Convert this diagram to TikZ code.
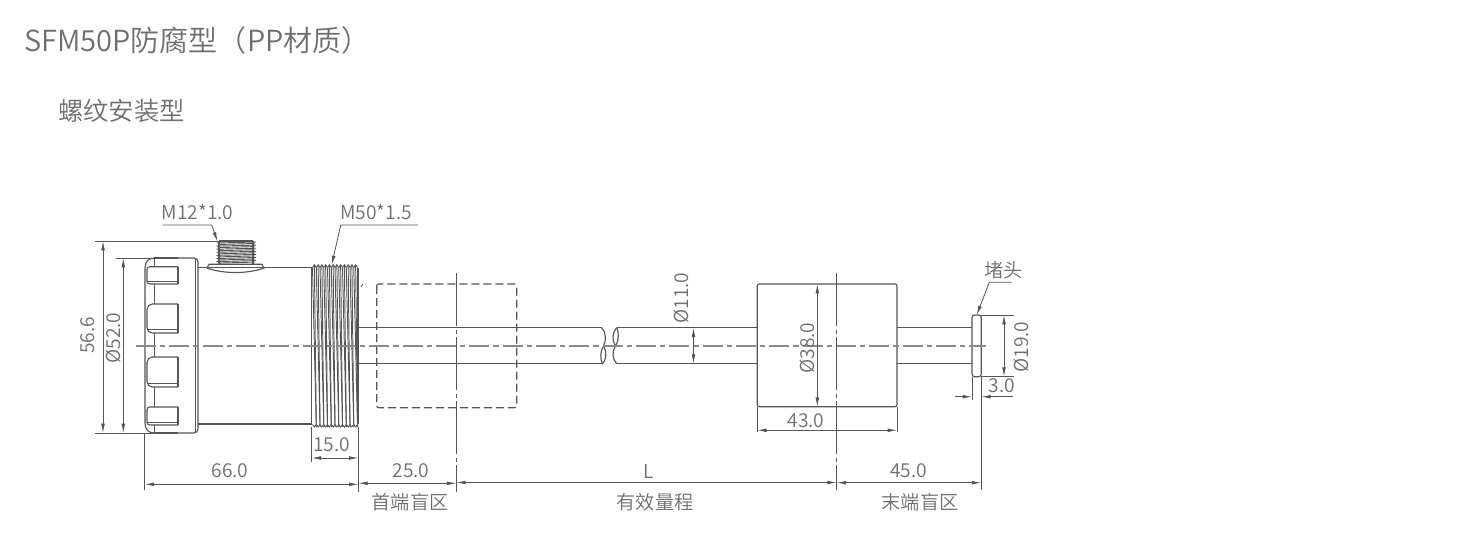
\documentclass[tikz,border=0pt]{standalone}
\usepackage{fontspec}
\setmainfont{Noto Sans CJK SC}[UprightFont=* DemiLight]
\usetikzlibrary{arrows.meta}
\definecolor{txt}{HTML}{6E6E6E}
\definecolor{ln}{HTML}{555555}
\definecolor{cl}{HTML}{8A8A8A}
\tikzset{
 part/.style={draw=ln,line width=0.85pt},
 thin part/.style={draw=ln,line width=0.55pt},
 thr/.style={draw=ln,line width=0.7pt},
 cen/.style={draw=cl,line width=0.95pt,dash pattern=on 15pt off 3pt on 4pt off 3pt},
 ext/.style={draw=ln,line width=0.6pt},
 dim/.style={draw=ln,line width=0.6pt,{Latex[length=7pt,width=2.8pt]}-{Latex[length=7pt,width=2.8pt]}},
 lead/.style={draw=ln,line width=0.6pt,-{Latex[length=7pt,width=2.8pt]}},
 oneway/.style={draw=ln,line width=0.6pt,-{Latex[length=7pt,width=2.8pt]}},
 lab/.style={text=txt,font=\fontsize{14.4pt}{16pt}\selectfont,inner sep=0pt},
 title/.style={text=txt,inner sep=0pt,anchor=west},
 hid/.style={draw=ln,line width=0.9pt,dash pattern=on 6pt off 3pt,rounded corners=1.5pt},
 mark line/.style={draw=ln,line width=0.6pt,dash pattern=on 40pt off 2.5pt on 3pt off 2.5pt},
}
\begin{document}
\begin{tikzpicture}[x=0.75pt,y=-0.75pt]
\useasboundingbox (0,0) rectangle (1460,550);
% titles
\node[title,font=\fontsize{21.8pt}{25pt}\selectfont] (t1) at (24,40) {SFM50P防腐型（PP材质）};
\node[title,font=\fontsize{19pt}{22pt}\selectfont] (t2) at (58,111) {螺纹安装型};
% head
\draw[part,rounded corners=3pt] (154,258) -- (198,258) -- (198,433) -- (154,433);
\draw[part] (154.5,258) .. controls (148,258) and (145,262) .. (145,268) -- (145,423) .. controls (145,429) and (148,433) .. (154.5,433);
\draw[thin part] (195.5,258) -- (195.5,433);
\draw[line width=1.1pt,draw=ln] (154.3,258) -- (178,258) (154.3,433) -- (178,433);
\draw[part] (154.3,284) -- (154.3,304) (154.3,333) -- (154.3,357) (154.3,387) -- (154.3,407) (154.3,258) -- (154.3,266.7) (154.3,425) -- (154.3,433);
\foreach \a/\b in {304/333,357/387}{
 \draw[part,rounded corners=4pt] (178,\a) -- (147,\a) -- (147,\b) -- (178,\b);
 \draw[part] (178,\a) -- (178,\b);
 \draw[thin part] (147,\b-4) -- (178,\b-4);
}
\draw[part,rounded corners=2pt] (178,266.7) -- (147,266.7) -- (147,284) -- (178,284);
\draw[part] (178,266.7) -- (178,284);
\draw[thin part] (147,281) -- (178,281);
\draw[part,rounded corners=2pt] (178,407) -- (147,407) -- (147,425) -- (178,425);
\draw[part] (178,407) -- (178,425);
\draw[thin part] (147,422) -- (178,422);
% body
\draw[part] (198,267.7) -- (311.7,267.7) (198,424) -- (311.7,424);
% M12 boss
\draw[part] (207,268) -- (209,264.3) -- (262,264.3) -- (264,268) .. controls (248,274) and (223,274) .. (207,268);
\draw[part] (220,264.3) -- (220,263) (253,264.3) -- (253,263);
\foreach \i in {0,...,6}{
 \draw[thr] (216.5,243+3.1*\i) -- (256,242+3.1*\i);
 \draw[thr] (218,244.5+3.1*\i) -- (254.5,243.5+3.1*\i);
}
\draw[line width=1.2pt,draw=ln] (219,241) -- (253,241);
\draw[part] (219,241) -- (219,263) (253,241) -- (253,263);
% M50 thread
\foreach \i in {0,...,11}{
 \pgfmathsetmacro{\xa}{312.5+3.75*\i}
 \pgfmathsetmacro{\xb}{\xa+1.9}
 \pgfmathsetmacro{\xc}{\xa+3.75}
 \draw[thr] (\xa,267.5) -- (\xb,264.8) -- (\xc,267.5);
 \draw[thr] (\xa,424.5) -- (\xb,427) -- (\xc,424.5);
 \draw[thr] (\xa,267.5) -- (\xc,424.5);
 \draw[thr] (\xb,264.8) -- (\xb+1.9,427);
}
\draw[part] (311.7,268) -- (311.7,424);
\draw[part] (358,268) -- (358,424);
\draw[thin part] (361,287) -- (363,284);
% hidden position of float
\draw[hid] (376.7,284) rectangle (516.7,407.7);
% tube
\draw[part] (358,327.7) -- (601.7,327.7) (358,363.7) -- (601.7,363.7);
\draw[part] (601.7,327.7) .. controls (606,332) and (606.5,341) .. (603.5,346) .. controls (607,351) and (606.5,360) .. (602.5,363.7) -- (601.7,363.7);
\draw[part] (603.5,346) .. controls (600,351) and (600,360) .. (602.5,363.7);
\draw[part] (616.7,327.7) .. controls (612,332) and (612,341) .. (615.5,346) .. controls (612,351) and (612,359) .. (616.7,363.7);
\draw[part] (616.7,327.7) .. controls (619,332) and (619,341) .. (615.5,346);
\draw[part] (616.7,327.7) -- (757.3,327.7) (616.7,363.7) -- (757.3,363.7);
% float
\draw[part,rounded corners=1.5pt] (757.3,284) rectangle (897,406.7);
\draw[part] (897,327.7) -- (972,327.7) (897,363.7) -- (972,363.7);
% end cap
\draw[part,rounded corners=2pt] (972,315) rectangle (981.3,376.7);
% centre lines
\draw[cen] (136,346) -- (986,346);
\draw[mark line] (456.3,273) -- (456.3,491.7);
\draw[mark line] (836.7,273) -- (836.7,490);
% extension lines
\draw[ext] (95,241) -- (218,241) (95,433) -- (154,433) (116,258) -- (154,258);
\draw[ext] (144.7,433) -- (144.7,490);
\draw[ext] (358.4,427) -- (358.4,492);
\draw[ext] (311.7,427) -- (311.7,462);
\draw[ext] (757.3,407) -- (757.3,432) (897,407) -- (897,432);
\draw[ext] (981.3,377) -- (981.3,490) (972,377) -- (972,400);
\draw[ext] (981,315) -- (1014,315) (981,376.7) -- (1014,376.7);
% dimension lines
\draw[dim] (103,241) -- (103,433);
\draw[dim] (123.3,258) -- (123.3,433);
\draw[dim] (311.7,458) -- (358.4,458);
\draw[dim] (144.7,484.3) -- (358.4,484.3);
\draw[dim] (358.4,483.3) -- (456.3,483.3);
\draw[dim] (456.3,482.5) -- (836.7,482.5);
\draw[dim] (836.7,482.7) -- (981.3,482.7);
\draw[dim] (757.3,430.3) -- (897,430.3);
\draw[dim] (817.3,284) -- (817.3,406.7);
\draw[dim] (693.5,327.7) -- (693.5,363.7);
\draw[dim] (1004,315) -- (1004,376.7);
\draw[oneway] (955,396.7) -- (972,396.7);
\draw[oneway] (1013,396.7) -- (981.3,396.7);
% leaders
\coordinate (m12s) at (162.7,225); \coordinate (m12e) at (211.7,225); \coordinate (m12t) at (217.5,241.5);
\coordinate (m50s) at (418,225); \coordinate (m50e) at (340.7,225); \coordinate (m50t) at (331.7,265);
\coordinate (capS) at (1011.7,282.3); \coordinate (capE) at (989.3,282.3); \coordinate (capT) at (976.7,315);
\draw[lead] (m12s) -- (m12e) -- (m12t);
\draw[lead] (m50s) -- (m50e) -- (m50t);
\draw[lead] (capS) -- (capE) -- (capT);
% labels
\node[lab] (lm12) at (197.5,212) {M12*1.0};
\node[lab] (lm50) at (376,212) {M50*1.5};
\node[lab] (lcap) at (1003.5,270) {堵头};
\node[lab,rotate=90] (l566) at (88,335.5) {56.6};
\node[lab,rotate=90] (l520) at (113.5,338) {Ø52.0};
\node[lab,rotate=90] (l110) at (681,298) {Ø11.0};
\node[lab,rotate=90] (l380) at (807,348) {Ø38.0};
\node[lab,rotate=90] (l190) at (1021,347) {Ø19.0};
\node[lab] (l150) at (331.5,445) {15.0};
\node[lab] (l660) at (230,471) {66.0};
\node[lab] (l250) at (411,471) {25.0};
\node[lab] (lL) at (648.5,471) {L};
\node[lab] (l450) at (908.5,471) {45.0};
\node[lab] (l430) at (806,421) {43.0};
\node[lab] (l30) at (1002,386) {3.0};
\node[lab] (z1) at (410,502.5) {首端盲区};
\node[lab] (z2) at (655,502.5) {有效量程};
\node[lab] (z3) at (920,502.5) {末端盲区};
\end{tikzpicture}
\end{document}
